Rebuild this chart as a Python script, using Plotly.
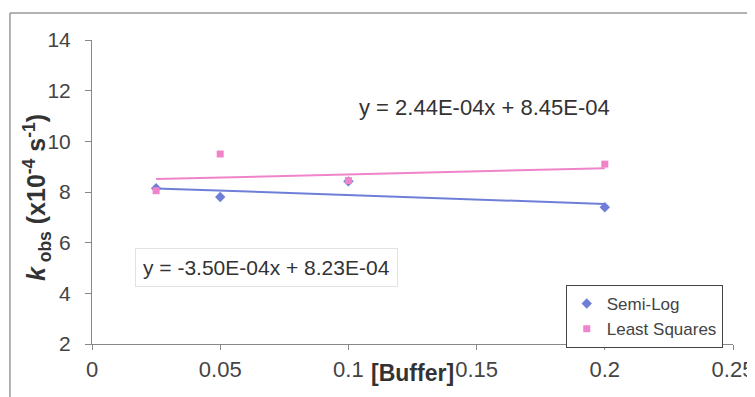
import numpy as np
import plotly.graph_objects as go

# datos (k_obs en unidades de 1e-4 s^-1)
buffer_semilog = [0.025, 0.05, 0.1, 0.2]
kobs_semilog = [8.15, 7.8, 8.42, 7.4]
buffer_lsq = [0.025, 0.05, 0.1, 0.2]
kobs_lsq = [8.05, 9.5, 8.45, 9.1]

# coeficientes de las líneas de tendencia (según las ecuaciones)
slope_semilog, icpt_semilog = -3.50e-4, 8.23e-4
slope_lsq, icpt_lsq = 2.44e-4, 8.45e-4
trend_x = [0.025, 0.2]

x_ticks = [0, 0.05, 0.1, 0.15, 0.2, 0.25]
x_tick_text = ["0", "0.05", "0.1", "0.15", "0.2", "0.25"]
y_ticks = [2, 4, 6, 8, 10, 12, 14]

blue = "#6F7FD8"
pink = "#F084CA"
font = "Liberation Sans, Arial, sans-serif"


def trend(x, m, b):
    # ecuación en s^-1 -> escala del eje (x1e-4)
    return [(m * xi + b) * 1e4 for xi in x]


fig = go.Figure()
fig.add_trace(go.Scatter(x=trend_x, y=trend(trend_x, slope_semilog, icpt_semilog),
                         mode="lines", line=dict(color=blue, width=2), showlegend=False))
fig.add_trace(go.Scatter(x=trend_x, y=trend(trend_x, slope_lsq, icpt_lsq),
                         mode="lines", line=dict(color=pink, width=2), showlegend=False))
fig.add_trace(go.Scatter(x=buffer_semilog, y=kobs_semilog, mode="markers", name="Semi-Log",
                         marker=dict(symbol="diamond", size=8, color=blue)))
fig.add_trace(go.Scatter(x=buffer_lsq, y=kobs_lsq, mode="markers", name="Least Squares",
                         marker=dict(symbol="square", size=7, color=pink)))

fig.add_annotation(x=0.1034, y=11.35, xref="x", yref="y", xanchor="left", showarrow=False,
                   text="y = 2.44E-04x + 8.45E-04", font=dict(size=22, color="#333", family=font))
fig.add_annotation(x=0.0168, y=5.03, xref="x", yref="y", xanchor="left", showarrow=False,
                   text="y = -3.50E-04x + 8.23E-04", font=dict(size=21, color="#333", family=font),
                   bgcolor="white", bordercolor="#e2e2e2", borderwidth=1, borderpad=7)
# títulos de ejes como anotaciones
fig.add_annotation(x=0.5, y=-0.095, xref="paper", yref="paper", showarrow=False,
                   xanchor="center", yanchor="middle",
                   text="<b>[Buffer]</b>", font=dict(size=23, color="#333", family=font))
fig.add_annotation(x=-0.0858, y=0.48, xref="paper", yref="paper", showarrow=False, textangle=-90,
                   xanchor="center", yanchor="middle",
                   text="<b><i>k</i><sub> obs</sub> (x10<sup>-4</sup> s<sup>-1</sup>)</b>",
                   font=dict(size=25, color="#333", family=font))

# borde exterior del área del gráfico
fig.add_shape(type="line", xref="paper", yref="paper", x0=-0.128, x1=-0.128, y0=1.089, y1=-0.3,
              line=dict(color="#999", width=1.5))
fig.add_shape(type="line", xref="paper", yref="paper", x0=-0.128, x1=1.1, y0=1.089, y1=1.089,
              line=dict(color="#999", width=1.5))

# la página añade 8px de margen al cuerpo: se compensa aquí
fig.update_layout(
    width=747, height=389,
    margin=dict(l=84, r=22, t=32, b=53),
    paper_bgcolor="white", plot_bgcolor="white",
    font=dict(family=font, size=21, color="#444"),
    legend=dict(x=0.984, y=0.194, xanchor="right", yanchor="top",
                bordercolor="#444", borderwidth=1, bgcolor="white",
                font=dict(size=17, color="#444"), itemwidth=30, tracegroupgap=0),
)
fig.update_xaxes(range=[0, 0.25], tickvals=x_ticks, ticktext=x_tick_text, automargin=False,
                 showgrid=False, zeroline=False, showline=True, linecolor="#888", linewidth=1,
                 ticks="outside", ticklen=5, tickcolor="#888", ticklabelstandoff=1,
                 tickfont=dict(size=22))
fig.update_yaxes(range=[2, 14], tickvals=y_ticks, showgrid=False, zeroline=False, automargin=False,
                 showline=True, linecolor="#888", linewidth=1,
                 ticks="outside", ticklen=6, tickcolor="#888", ticklabelstandoff=10)

fig.write_html("out.html")
